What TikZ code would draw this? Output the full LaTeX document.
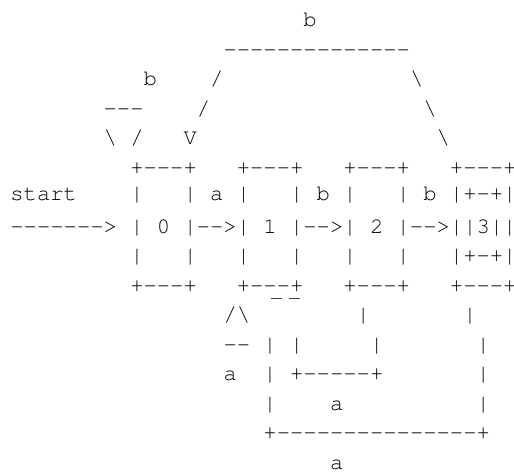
\documentclass[tikz,border=0pt]{standalone}
\usepackage[T1]{fontenc}
\renewcommand{\ttdefault}{pcr}
\newcommand\hy{-{}}
\newcommand\bs{\textbackslash}
\newcommand\bx{+\hy\hy\hy+}
\tikzset{
  asc/.style={inner sep=0pt, outer sep=0pt, anchor=base west, text=black,
    font=\fontsize{16.65pt}{20pt}\ttfamily\selectfont},
  tick/.style={line width=0.7pt, draw=black!75}
}
% \ascline{name}{column}{line}{text}
\newcommand\ascline[4]{\node[asc] (#1) at ({10.4+13.32*(#2)},{26.7+29.51*(#3)}) {#4};}
\begin{document}
\begin{tikzpicture}[x=0.75pt,y=-0.75pt]
\fill[white] (0,0) rectangle (514,472);
\useasboundingbox (0,0) rectangle (514,472);
\ascline{l0}{22}{0}{b}
\ascline{l1}{16}{1}{\hy\hy\hy\hy\hy\hy\hy\hy\hy\hy\hy\hy\hy\hy}
\ascline{l2}{10}{2}{b~~~~/~~~~~~~~~~~~~~\bs}
\ascline{l3}{7}{3}{\hy\hy\hy~~~~/~~~~~~~~~~~~~~~~\bs}
\ascline{l4}{7}{4}{\bs~/~~~V~~~~~~~~~~~~~~~~~~\bs}
\ascline{l5}{9}{5}{\bx~~~\bx~~~\bx~~~\bx}
\ascline{l6}{0}{5.9}{start~~~~|~~~|~a~|~~~|~b~|~~~|~b~|+\hy+|}
\ascline{l7}{0}{7}{\hy\hy\hy\hy\hy\hy\hy>~|~0~|\hy\hy>|~1~|\hy\hy>|~2~|\hy\hy>||3||}
\ascline{l8}{9}{8}{|~~~|~~~|~~~|~~~|~~~|~~~|+\hy+|}
\ascline{l9}{9}{9}{\bx~~~\bx~~~\bx~~~\bx}
\ascline{l10}{16}{10}{/\bs~~~~~~~~|~~~~~~~|}
\ascline{l11}{16}{11}{\hy\hy~|~|~~~~~|~~~~~~~|}
\ascline{l12}{16}{12}{a~~|~+\hy\hy\hy\hy\hy+~~~~~~~|}
\ascline{l13}{19}{13}{|~~~~a~~~~~~~~~~|}
\ascline{l14}{19}{14}{+\hy\hy\hy\hy\hy\hy\hy\hy\hy\hy\hy\hy\hy\hy\hy+}
\ascline{l15}{24}{15}{a}
\draw[tick] (271,298) -- (282,298);
\draw[tick] (289,298) -- (300,298);
\end{tikzpicture}
\end{document}
